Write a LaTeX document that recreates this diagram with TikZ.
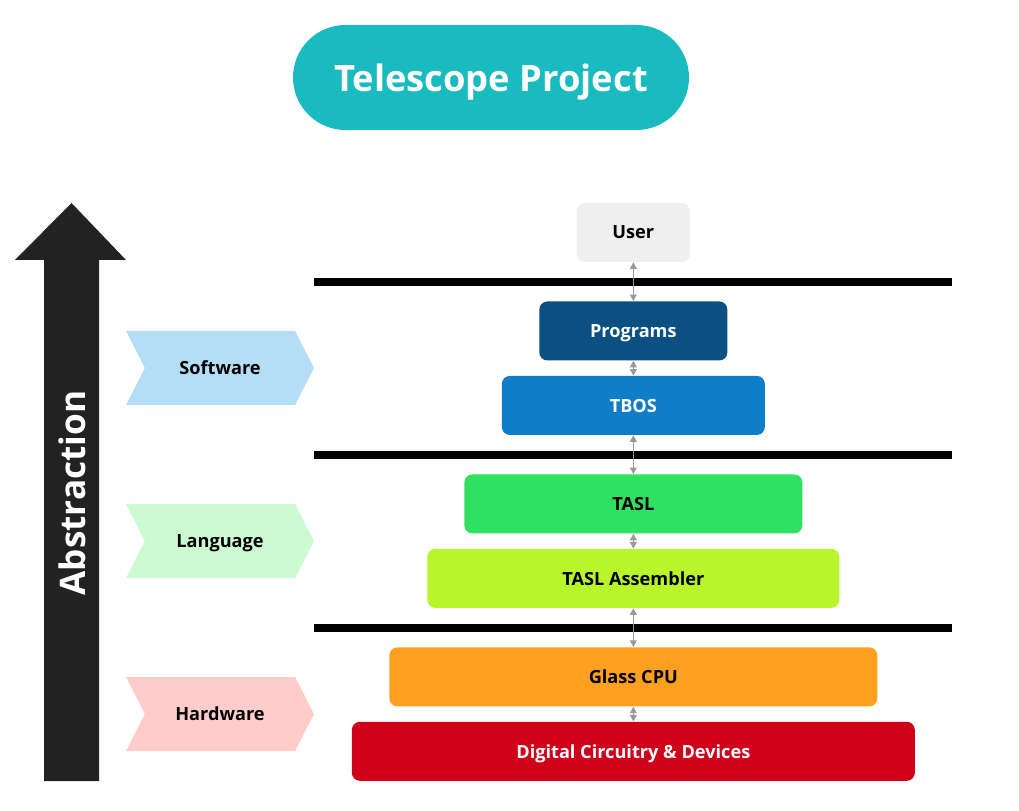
\documentclass[tikz,border=0pt]{standalone}
\usepackage{fontspec}
\setmainfont{Open Sans}
\usetikzlibrary{arrows.meta,positioning,shapes.symbols}
\definecolor{teal}{RGB}{26,187,191}
\definecolor{usergray}{RGB}{239,239,239}
\definecolor{progblue}{RGB}{11,80,128}
\definecolor{osblue}{RGB}{15,125,200}
\definecolor{langgreen}{RGB}{48,224,96}
\definecolor{asmlime}{RGB}{184,245,42}
\definecolor{cpuorange}{RGB}{255,160,32}
\definecolor{circred}{RGB}{208,2,27}
\definecolor{swblue}{RGB}{179,222,245}
\definecolor{langmint}{RGB}{204,251,210}
\definecolor{hwpink}{RGB}{255,204,204}
\definecolor{arrowblack}{RGB}{34,34,34}
\definecolor{linkgray}{RGB}{153,153,153}
\tikzset{
  layer/.style={rounded corners=0.24cm,minimum height=1.77cm,inner sep=0pt,text depth=0pt,align=center,font=\fontsize{15.5}{18}\selectfont\bfseries},
  darklayer/.style={layer,text=white},
  band/.style={shape=signal,signal to=east,signal from=west,signal pointer angle=126,minimum width=5.64cm,minimum height=2.22cm,inner sep=0pt,text depth=0pt,font=\fontsize{15.5}{18}\selectfont\bfseries},
  divider/.style={draw=black,line width=6pt},
  link/.style={{Triangle[length=2mm,width=2mm]}-{Triangle[length=2mm,width=2mm]},draw=linkgray,line width=1.4pt}
}

\begin{document}
\begin{tikzpicture}[node distance=1.17cm]
  \useasboundingbox (0,0) rectangle (30.57,24.3);
  % title
  \node[fill=teal,rounded corners=1.575cm,minimum width=11.88cm,minimum height=3.15cm,text depth=0pt,text=white,font=\fontsize{31}{36}\selectfont\bfseries] (title) at (14.73,21.975) {Telescope Project};
  % abstraction arrow
  \fill[arrowblack] (1.32,0.87) -- (2.97,0.87) -- (2.97,16.5) -- (3.78,16.5) -- (2.145,18.21) -- (0.45,16.5) -- (1.32,16.5) -- cycle;
  \node[rotate=90,text=white,font=\fontsize{30}{36}\selectfont\bfseries] (abs) at (2.16,9.51) {Abstraction};
  % stack
  \node[layer,fill=usergray,minimum width=3.39cm] (user) at (19.0,17.325) {User};
  \node[darklayer,fill=progblue,minimum width=5.64cm,below=of user] (prog) {Programs};
  \node[darklayer,fill=osblue,minimum width=7.89cm,below=0.45cm of prog] (tbos) {TBOS};
  \node[layer,fill=langgreen,minimum width=10.14cm,below=of tbos] (tasl) {TASL};
  \node[layer,fill=asmlime,minimum width=12.36cm,below=0.45cm of tasl] (asm) {TASL Assembler};
  \node[layer,fill=cpuorange,minimum width=14.64cm,below=of asm] (cpu) {Glass CPU};
  \node[darklayer,fill=circred,minimum width=16.89cm,below=0.45cm of cpu] (circ) {Digital Circuitry \& Devices};
  % dividers
  \draw[divider] (9.42,15.84) -- (28.56,15.84);
  \draw[divider] (9.42,10.65) -- (28.56,10.65);
  \draw[divider] (9.42,5.46) -- (28.56,5.46);
  % bands
  \node[band,fill=swblue] (sw) at (6.6,13.26) {Software};
  \node[band,fill=langmint] (lang) at (6.6,8.07) {Language};
  \node[band,fill=hwpink] (hw) at (6.6,2.88) {Hardware};
  % links
  \draw[link] (user)--(prog);
  \draw[link] (prog)--(tbos);
  \draw[link] (tbos)--(tasl);
  \draw[link] (tasl)--(asm);
  \draw[link] (asm)--(cpu);
  \draw[link] (cpu)--(circ);
\end{tikzpicture}
\end{document}
